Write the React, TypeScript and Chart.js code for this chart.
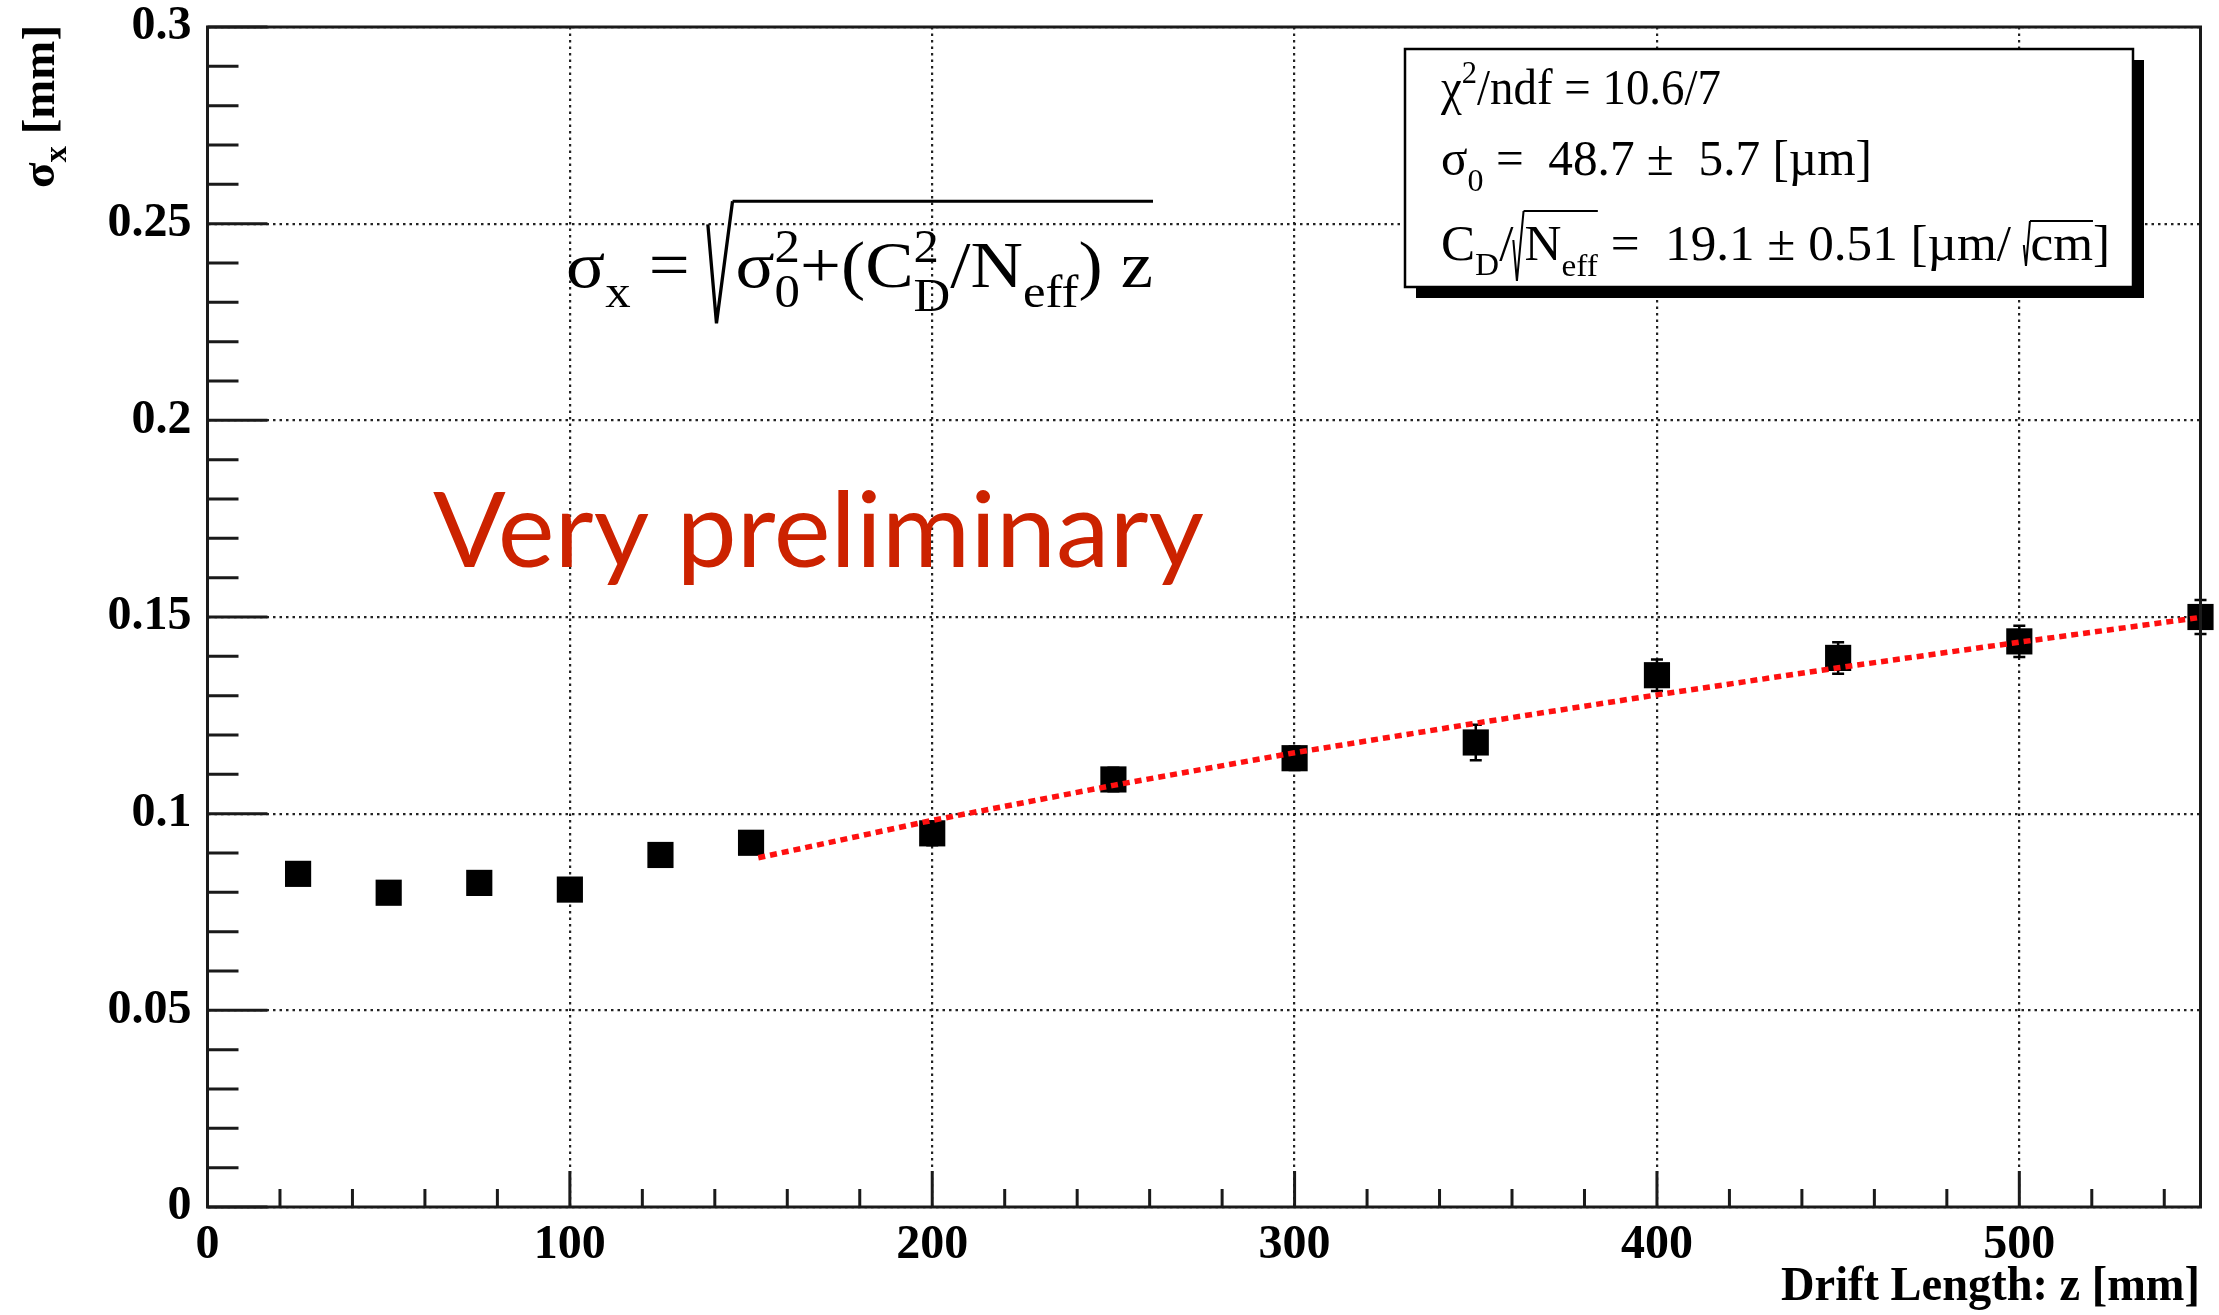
import React, { useEffect, useRef } from 'react';
import { Chart, registerables } from 'chart.js';

Chart.register(...registerables);

// ---- data ----
const driftLength = [25, 50, 75, 100, 125, 150, 200, 250, 300, 350, 400, 450, 500, 550];
const sigmaX = [0.0847, 0.0799, 0.0824, 0.0807, 0.0895, 0.0926, 0.095, 0.1087, 0.1141, 0.1181, 0.1352, 0.1396, 0.1438, 0.15];
const sigmaErr = [0.002, 0.002, 0.002, 0.002, 0.002, 0.002, 0.003, 0.003, 0.003, 0.0045, 0.004, 0.004, 0.004, 0.0043];
const fitZ = [152, 200, 250, 300, 350, 400, 450, 500, 550];
const fitSigma = [0.0888, 0.0983, 0.1072, 0.1155, 0.123, 0.1302, 0.1371, 0.1436, 0.1499];
const xTickValues = [0, 100, 200, 300, 400, 500];
const xTickLabels = ['0', '100', '200', '300', '400', '500'];
const yTickValues = [0, 0.05, 0.1, 0.15, 0.2, 0.25, 0.3];
const yTickLabels = ['0', '0.05', '0.1', '0.15', '0.2', '0.25', '0.3'];
const xMinorStep = 20;
const yMinorStep = 0.01;
const xTitle = 'Drift Length: z [mm]';
const watermark = 'Very preliminary';
const chi2Text = '/ndf = 10.6/7';
const sigma0Text = ' =  48.7 \u00b1  5.7 [\u00b5m]';
const cdText = ' =  19.1 \u00b1 0.51 [\u00b5m/ ';

const SERIF = '"Liberation Serif", "Times New Roman", serif';

type Run = any;

function processRuns(ctx: CanvasRenderingContext2D, runs: Run[], size: number, weight: string, family: string, draw: boolean) {
  let x = 0;
  let radX = 0;
  let radTop = 0;
  for (const r of runs) {
    if (r.rad === 'open') {
      const top = r.top * size, bot = r.bot * size, w = r.w * size;
      if (draw) {
        ctx.beginPath();
        ctx.moveTo(x, r.tick * size);
        ctx.lineTo(x + w * 0.35, bot);
        ctx.lineTo(x + w, top);
        ctx.stroke();
      }
      radX = x + w;
      radTop = top;
      x += w + (r.pad || 0) * size;
    } else if (r.rad === 'close') {
      if (draw) {
        ctx.beginPath();
        ctx.moveTo(radX, radTop);
        ctx.lineTo(x + (r.ext || 0) * size, radTop);
        ctx.stroke();
      }
    } else if (r.sup !== undefined || r.sub !== undefined) {
      const s = size * (r.s ?? 0.7);
      ctx.font = `${weight} ${s}px ${family}`;
      let w = 0;
      if (r.sup) {
        const m = ctx.measureText(r.sup).width;
        if (draw) ctx.fillText(r.sup, x, (r.supDy ?? -0.42) * size);
        w = Math.max(w, m);
      }
      if (r.sub) {
        const m = ctx.measureText(r.sub).width;
        if (draw) ctx.fillText(r.sub, x, (r.subDy ?? 0.28) * size);
        w = Math.max(w, m);
      }
      x += w;
    } else if (r.gap) {
      x += r.gap * size;
    } else {
      ctx.font = `${weight} ${size * (r.s ?? 1)}px ${family}`;
      if (draw) ctx.fillText(r.t, x, (r.dy ?? 0) * size);
      x += ctx.measureText(r.t).width;
    }
  }
  return x;
}

function drawRuns(ctx: CanvasRenderingContext2D, runs: Run[], o: any) {
  ctx.save();
  ctx.textBaseline = 'alphabetic';
  ctx.textAlign = 'left';
  const natural = processRuns(ctx, runs, o.size, o.weight || 'normal', o.family || SERIF, false);
  const sx = o.width ? o.width / natural : 1;
  ctx.translate(o.x, o.y);
  if (o.rotate) ctx.rotate(o.rotate);
  ctx.scale(sx, 1);
  ctx.fillStyle = o.color || '#000';
  ctx.strokeStyle = o.color || '#000';
  ctx.lineWidth = o.lineWidth || 2;
  processRuns(ctx, runs, o.size, o.weight || 'normal', o.family || SERIF, true);
  ctx.restore();
}

const rootPlugin = {
  id: 'rootStyle',
  beforeDatasetsDraw(chart: any) {
    const ctx = chart.ctx as CanvasRenderingContext2D;
    const xs = chart.scales.x;
    const ys = chart.scales.y;
    ctx.save();
    ctx.strokeStyle = '#000';
    ctx.lineWidth = 2.5;
    driftLength.forEach((z, i) => {
      const px = xs.getPixelForValue(z);
      const y1 = ys.getPixelForValue(sigmaX[i] - sigmaErr[i]);
      const y2 = ys.getPixelForValue(sigmaX[i] + sigmaErr[i]);
      ctx.beginPath();
      ctx.moveTo(px, y1);
      ctx.lineTo(px, y2);
      ctx.moveTo(px - 6, y1);
      ctx.lineTo(px + 6, y1);
      ctx.moveTo(px - 6, y2);
      ctx.lineTo(px + 6, y2);
      ctx.stroke();
    });
    ctx.restore();
  },
  afterDraw(chart: any) {
    const ctx = chart.ctx as CanvasRenderingContext2D;
    const xs = chart.scales.x;
    const ys = chart.scales.y;
    const { left, right, top, bottom } = chart.chartArea;

    ctx.save();
    // ticks (inward, ROOT style)
    ctx.strokeStyle = '#1a1a1a';
    ctx.lineWidth = 3;
    ctx.beginPath();
    for (let v = 0; v <= 0.3 + 1e-9; v += yMinorStep) {
      const y = ys.getPixelForValue(v);
      const major = yTickValues.some((t) => Math.abs(t - v) < 1e-6);
      ctx.moveTo(left, y);
      ctx.lineTo(left + (major ? 60 : 31), y);
    }
    for (let v = 0; v <= 550 + 1e-9; v += xMinorStep) {
      const x = xs.getPixelForValue(v);
      const major = xTickValues.some((t) => Math.abs(t - v) < 1e-6);
      ctx.moveTo(x, bottom);
      ctx.lineTo(x, bottom - (major ? 36 : 18));
    }
    ctx.stroke();
    // frame
    ctx.lineWidth = 3;
    ctx.strokeRect(left, top, right - left, bottom - top);

    // stats box
    ctx.fillStyle = '#000';
    ctx.fillRect(1416, 60, 728, 238);
    ctx.fillStyle = '#fff';
    ctx.fillRect(1405, 49, 728, 238);
    ctx.strokeStyle = '#000';
    ctx.lineWidth = 2.5;
    ctx.strokeRect(1405, 49, 728, 238);
    ctx.restore();

    const boxSize = 50;
    drawRuns(ctx, [{ t: '\u03c7' }, { sup: '2', s: 0.65 }, { t: chi2Text }], { x: 1441, y: 104, size: boxSize, width: 280 });
    drawRuns(ctx, [{ t: '\u03c3' }, { sub: '0', s: 0.65, subDy: 0.32 }, { t: sigma0Text }], { x: 1441, y: 175, size: boxSize, width: 431 });
    drawRuns(
      ctx,
      [
        { t: 'C' },
        { sub: 'D', s: 0.65, subDy: 0.3 },
        { t: '/' },
        { rad: 'open', tick: -0.4, bot: 0.42, top: -0.98, w: 0.2, pad: 0.02 },
        { t: 'N' },
        { sub: 'eff', s: 0.65, subDy: 0.32 },
        { rad: 'close' },
        { t: cdText },
        { rad: 'open', tick: -0.3, bot: 0.12, top: -0.78, w: 0.12, pad: 0.01 },
        { t: 'cm' },
        { rad: 'close' },
        { t: ']' },
      ],
      { x: 1441, y: 260, size: boxSize, width: 669, lineWidth: 2 }
    );

    // formula
    drawRuns(
      ctx,
      [
        { t: '\u03c3' },
        { sub: 'x', subDy: 0.3 },
        { t: ' = ' },
        { rad: 'open', tick: -0.95, bot: 0.55, top: -1.3, w: 0.34, pad: 0.04 },
        { t: '\u03c3' },
        { sup: '2', sub: '0', supDy: -0.38, subDy: 0.3 },
        { t: '+(C' },
        { sup: '2', sub: 'D', supDy: -0.38, subDy: 0.36 },
        { t: '/N' },
        { sub: 'eff', subDy: 0.3 },
        { t: ') z' },
        { rad: 'close' },
      ],
      { x: 566, y: 287, size: 66, width: 587, lineWidth: 3 }
    );

    // y-axis title (rotated)
    drawRuns(ctx, [{ t: '\u03c3' }, { sub: 'x', subDy: 0.25 }, { t: ' [mm]' }], {
      x: 54,
      y: 188,
      size: 46,
      weight: 'bold',
      width: 163,
      rotate: -Math.PI / 2,
    });

    // x-axis title
    drawRuns(ctx, [{ t: xTitle }], { x: 1781, y: 1300, size: 48, weight: 'bold', width: 419 });

    // watermark
    drawRuns(ctx, [{ t: watermark }], {
      x: 433,
      y: 567,
      size: 104,
      weight: 'normal',
      family: 'Lato, "Open Sans", sans-serif',
      color: '#cc2200',
      width: 771,
    });
  },
};

export default function App() {
  const ref = useRef<HTMLCanvasElement | null>(null);
  useEffect(() => {
    if (!ref.current) return;
    const tickFont = { family: SERIF, weight: 'bold' as const, size: 48 };
    const chart = new Chart(ref.current, {
      type: 'scatter',
      data: {
        datasets: [
          {
            type: 'line',
            data: fitZ.map((z, i) => ({ x: z, y: fitSigma[i] })),
            borderColor: '#ff1010',
            borderWidth: 5.5,
            borderDash: [7, 5],
            pointRadius: 0,
            fill: false,
            tension: 0,
            order: 0,
            clip: false,
          } as any,
          {
            type: 'scatter',
            data: driftLength.map((z, i) => ({ x: z, y: sigmaX[i] })),
            pointStyle: 'rect',
            pointRadius: 18.5,
            backgroundColor: '#000',
            borderWidth: 0,
            order: 1,
            clip: false,
          } as any,
        ],
      },
      options: {
        responsive: false,
        animation: false,
        devicePixelRatio: 1,
        layout: { padding: { top: 27, right: 16, left: 0, bottom: 0 } },
        plugins: { legend: { display: false }, tooltip: { enabled: false } },
        scales: {
          x: {
            type: 'linear',
            min: 0,
            max: 550,
            afterBuildTicks: (s: any) => {
              s.ticks = xTickValues.map((v) => ({ value: v }));
            },
            afterFit: (s: any) => {
              s.height = 108;
              s.paddingLeft = 0;
              s.paddingRight = 0;
            },
            grid: { color: '#222', lineWidth: 2.2, drawTicks: false },
            border: { display: false, dash: [2.5, 4] },
            ticks: {
              callback: (_v: any, i: number) => xTickLabels[i],
              font: tickFont,
              color: '#000',
              padding: 10,
              maxRotation: 0,
              autoSkip: false,
            },
          },
          y: {
            type: 'linear',
            min: 0,
            max: 0.3,
            afterBuildTicks: (s: any) => {
              s.ticks = yTickValues.map((v) => ({ value: v }));
            },
            afterFit: (s: any) => {
              s.width = 207.5;
              s.paddingTop = 0;
              s.paddingBottom = 0;
            },
            grid: { color: '#222', lineWidth: 2.2, drawTicks: false },
            border: { display: false, dash: [2.5, 4] },
            ticks: {
              callback: (_v: any, i: number) => yTickLabels[i],
              font: tickFont,
              color: '#000',
              padding: 16,
              autoSkip: false,
            },
          },
        },
      },
      plugins: [rootPlugin],
    } as any);
    return () => chart.destroy();
  }, []);
  return (
    <div style={{ position: 'absolute', left: 0, top: 0, width: 2219, height: 1315, background: '#fff' }}>
      <canvas ref={ref} width={2219} height={1315} style={{ display: 'block' }} />
    </div>
  );
}
